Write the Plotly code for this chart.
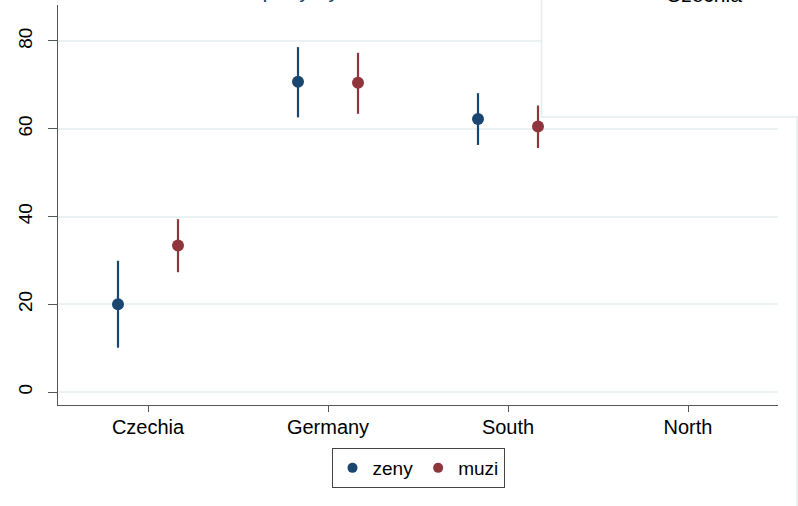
import plotly.graph_objects as go

categories = ["Czechia", "Germany", "South", "North"]
zeny_mean = [20.0, 70.7, 62.2, None]
zeny_lo = [10.1, 62.6, 56.3, None]
zeny_hi = [29.9, 78.6, 68.1, None]
muzi_mean = [33.4, 70.5, 60.5, None]
muzi_lo = [27.3, 63.4, 55.6, None]
muzi_hi = [39.4, 77.3, 65.3, None]
y_ticks = [0, 20, 40, 60, 80]

NAVY = "#1a476f"
MAROON = "#90353b"
OFFSET = 1 / 6


def build(mean, lo, hi, shift, name, color):
    xs, ys, ep, em = [], [], [], []
    for i, m in enumerate(mean):
        if m is None:
            continue
        xs.append(i + shift)
        ys.append(m)
        ep.append(hi[i] - m)
        em.append(m - lo[i])
    return go.Scatter(
        x=xs, y=ys, mode="markers", name=name, showlegend=False,
        marker=dict(color=color, size=12),
        error_y=dict(type="data", symmetric=False, array=ep, arrayminus=em,
                     color=color, thickness=2.2, width=0),
    )


def legend_entry(name, color):
    return go.Scatter(x=[None], y=[None], mode="markers", name=name,
                      marker=dict(color=color, size=10), showlegend=True)


fig = go.Figure()
fig.add_trace(build(zeny_mean, zeny_lo, zeny_hi, -OFFSET, "zeny", NAVY))
fig.add_trace(build(muzi_mean, muzi_lo, muzi_hi, OFFSET, "muzi", MAROON))
fig.add_trace(legend_entry("zeny", NAVY))
fig.add_trace(legend_entry("muzi", MAROON))

# axis geometry (pixels)
L, R, T, B = 58, 778, 5, 405
W, H = 798, 506
def px(x):
    return (x - L) / (R - L)
def py(y):
    return (B - y) / (B - T)

fig.update_layout(
    width=W, height=H,
    margin=dict(l=L, r=W - R, t=T, b=H - B),
    paper_bgcolor="white", plot_bgcolor="white",
    font=dict(family="Liberation Sans, Arial, sans-serif", size=20, color="black"),
    showlegend=True,
    legend=dict(
        orientation="h", x=0.5, xanchor="center", y=py(448), yanchor="top",
        bordercolor="#444444", borderwidth=1, bgcolor="white",
        font=dict(size=19),
    ),
    xaxis=dict(
        range=[-0.5, 3.5], tickmode="array", tickvals=list(range(len(categories))),
        ticktext=categories, showgrid=False, zeroline=False,
        showline=True, linecolor="#555555", linewidth=1.3,
        ticks="outside", ticklen=6, tickcolor="#555555", tickwidth=1.2,
        ticklabelstandoff=-2,
    ),
    yaxis=dict(
        range=[-2.96, 88.2], tickmode="array", tickvals=y_ticks,
        ticktext=[str(v) for v in y_ticks], tickangle=-90,
        showgrid=True, gridcolor="#eaf2f3", gridwidth=2, zeroline=False,
        showline=True, linecolor="#555555", linewidth=1.3,
        ticks="outside", ticklen=9, tickcolor="#555555", tickwidth=1.2,
        ticklabelstandoff=8, tickfont=dict(size=19),
    ),
    shapes=[
        dict(type="rect", xref="paper", yref="paper",
             x0=px(541.5), x1=px(805), y0=py(117), y1=py(-10),
             fillcolor="white", line=dict(color="#e6edef", width=1.5), layer="above"),
        dict(type="line", xref="paper", yref="paper",
             x0=px(797), x1=px(797), y0=py(117), y1=py(510),
             line=dict(color="#e6edef", width=1.5), layer="above"),
    ],
    annotations=[
        dict(text="Czechia", xref="paper", yref="paper", x=px(704), y=py(8),
             xanchor="center", yanchor="bottom", showarrow=False,
             font=dict(size=21, color="black")),
        dict(text="Company by sex,", xref="paper", yref="paper", x=px(213.6), y=py(4),
             xanchor="left", yanchor="bottom", showarrow=False,
             font=dict(size=22, color=NAVY)),
    ],
)

fig.write_html("out.html", config={"displayModeBar": False},
               post_script="document.body.style.margin='0';")
